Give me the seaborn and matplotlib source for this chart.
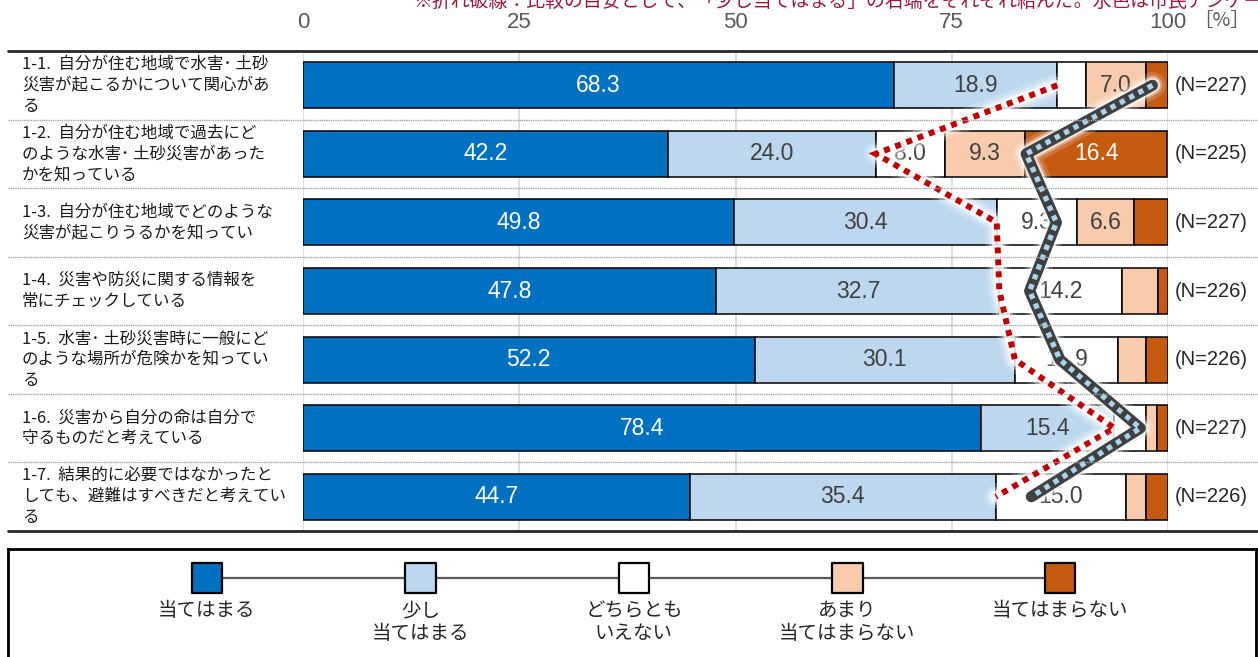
import numpy as np
import pandas as pd
import matplotlib
matplotlib.use("Agg")
import matplotlib.pyplot as plt
from matplotlib.lines import Line2D
from matplotlib.transforms import blended_transform_factory
import seaborn as sns

# ---- data -------------------------------------------------------------
items = [
    "1-1.  自分が住む地域で水害･ 土砂\n災害が起こるかについて関心があ\nる",
    "1-2.  自分が住む地域で過去にど\nのような水害･ 土砂災害があった\nかを知っている",
    "1-3.  自分が住む地域でどのような\n災害が起こりうるかを知ってい",
    "1-4.  災害や防災に関する情報を\n常にチェックしている",
    "1-5.  水害･ 土砂災害時に一般にど\nのような場所が危険かを知ってい\nる",
    "1-6.  災害から自分の命は自分で\n守るものだと考えている",
    "1-7.  結果的に必要ではなかったと\nしても、避難はすべきだと考えてい\nる",
]
item_codes = ["1-1", "1-2", "1-3", "1-4", "1-5", "1-6", "1-7"]
n_resp = [227, 225, 227, 226, 226, 227, 226]

categories = ["当てはまる", "少し\n当てはまる", "どちらとも\nいえない",
              "あまり\n当てはまらない", "当てはまらない"]
atehamaru = [68.3, 42.2, 49.8, 47.8, 52.2, 78.4, 44.7]
sukoshi = [18.9, 24.0, 30.4, 32.7, 30.1, 15.4, 35.4]
dochiratomo = [3.3, 8.0, 9.3, 14.2, 11.9, 3.7, 15.0]
amari = [7.0, 9.3, 6.6, 4.1, 3.3, 1.2, 2.3]
atehamaranai = [2.5, 16.4, 3.9, 1.2, 2.5, 1.3, 2.6]

# right end of "少し当てはまる" in the citizen survey (comparison line)
citizen_edge = [98.2, 83.6, 87.1, 84.0, 87.5, 96.8, 84.2]

xticks = [0, 25, 50, 75, 100]
note = "※折れ破線：比較の目安として、「少し当てはまる」の右端をそれぞれ結んだ。水色は市民アンケート"

# ---- style ------------------------------------------------------------
seg_colors = ["#0070C0", "#BDD7EE", "#FFFFFF", "#F8CBAD", "#C55A11"]
label_colors = ["white", "#404040", "#404040", "#404040", "white"]

sns.set_theme(style="white")
plt.rcParams["font.family"] = ["Noto Sans CJK JP", "DejaVu Sans"]

W, H = 1258, 657
fig = plt.figure(figsize=(W / 100, H / 100), dpi=100)
ax = fig.add_axes([303 / W, 1 - 531 / H, 865 / W, 480 / H])

series = [atehamaru, sukoshi, dochiratomo, amari, atehamaranai]
left = np.zeros(len(items))
for k, vals in enumerate(series):
    vals = np.asarray(vals, dtype=float)
    df = pd.DataFrame({"item": item_codes, "value": vals})
    sns.barplot(data=df, x="value", y="item", orient="h", left=left,
                color=seg_colors[k], saturation=1, edgecolor="black",
                linewidth=1.1, width=0.67, errorbar=None, ax=ax, zorder=2)
    for i, (v, l0) in enumerate(zip(vals, left)):
        if v >= 5:
            ax.text(l0 + v / 2, i, f"{v:.1f}", ha="center", va="center",
                    fontsize=16.5, color=label_colors[k],
                    family="Liberation Sans", zorder=3)
    left = left + vals

ax.set_xlim(0, 100)
ax.set_ylim(len(items) - 0.5, -0.5)
ax.set_xlabel("")
ax.set_ylabel("")
ax.set_yticks([])
ax.set_xticks(xticks)
ax.set_xticklabels([str(t) for t in xticks])
ax.xaxis.tick_top()
ax.tick_params(axis="x", length=0, pad=13, labelsize=16, labelcolor="#595959")
for lbl in ax.get_xticklabels():
    lbl.set_fontfamily("Liberation Sans")
ax.grid(axis="x", color="#D9D9D9", lw=1.2)
ax.set_axisbelow(True)
for s in ax.spines.values():
    s.set_visible(False)

# comparison lines: right end of "少し当てはまる"
ypos = np.arange(len(items))
survey_edge = np.asarray(atehamaru) + np.asarray(sukoshi)
for lw, a in [(17, 0.18), (12, 0.35), (8, 0.7)]:
    ax.plot(survey_edge, ypos, color="white", lw=lw, alpha=a,
            solid_capstyle="round", solid_joinstyle="round", zorder=5)
ax.plot(survey_edge, ypos, color="#C00000", lw=4.3, linestyle=(0, (1, 1)),
        dash_joinstyle="miter", zorder=6)

for lw, a in [(19, 0.18), (14, 0.35), (11, 0.7)]:
    ax.plot(citizen_edge, ypos, color="white", lw=lw, alpha=a,
            solid_capstyle="round", solid_joinstyle="round", zorder=7)
ax.plot(citizen_edge, ypos, color="#404040", lw=8, solid_capstyle="round",
        solid_joinstyle="round", zorder=8)
ax.plot(citizen_edge, ypos, color="#A9D4EF", lw=3.8, linestyle=(0, (1, 1)),
        zorder=9)

# row labels, sample sizes, separators
row_tr = blended_transform_factory(fig.transFigure, ax.transData)
for i, (txt, n) in enumerate(zip(items, n_resp)):
    fig.text(22 / W, i, txt, transform=row_tr, ha="left", va="center",
             fontsize=11.9, color="#1A1A1A", linespacing=1.3)
    fig.text(1175 / W, i, f"(N={n})", transform=row_tr, ha="left",
             va="center", fontsize=14.5, color="#262626",
             family="Liberation Sans")
for b in np.arange(0.5, len(items) - 0.5, 1.0):
    fig.add_artist(Line2D([8 / W, 1.0], [b, b], transform=row_tr,
                          color="#A6A6A6", lw=1.0, linestyle=(0, (1, 0.6))))

edge_tr = blended_transform_factory(fig.transFigure, ax.transAxes)
for yb in (0.0, 1.0):
    fig.add_artist(Line2D([8 / W, 1.0], [yb, yb], transform=edge_tr,
                          color="#262626", lw=2.0))

fig.text(1222 / W, 1 - 21 / H, "［%］", ha="center", va="center",
         fontsize=14, color="#595959")

fig.text(413 / W, 1 - 7 / H, note, ha="left", va="baseline",
         fontsize=13.6, color="#A0163A")

# legend panel
lax = fig.add_axes([8 / W, -0.02, (1256 - 8) / W, (657 - 549) / H + 0.02])
lax.set_xlim(8, 1256)
lax.set_ylim(657 + 13, 549)
lax.set_xticks([])
lax.set_yticks([])
for side in ("top", "left", "right"):
    lax.spines[side].set_color("black")
    lax.spines[side].set_linewidth(2.0)
lax.spines["bottom"].set_visible(False)
lax.set_facecolor("white")

mk_x = [207, 420.5, 634, 847.5, 1060]
lax.plot([mk_x[0], mk_x[-1]], [578, 578], color="#595959", lw=1.6, zorder=1)
lax.scatter(mk_x, [578] * len(mk_x), marker="s", s=470, c=seg_colors,
            edgecolors="black", linewidths=1.6, zorder=2)
for xm, lab in zip(mk_x, categories):
    lax.text(xm, 600, lab, ha="center", va="top", fontsize=14,
             color="#262626", linespacing=1.1, multialignment="center")

fig.savefig("out.png", dpi=100)
